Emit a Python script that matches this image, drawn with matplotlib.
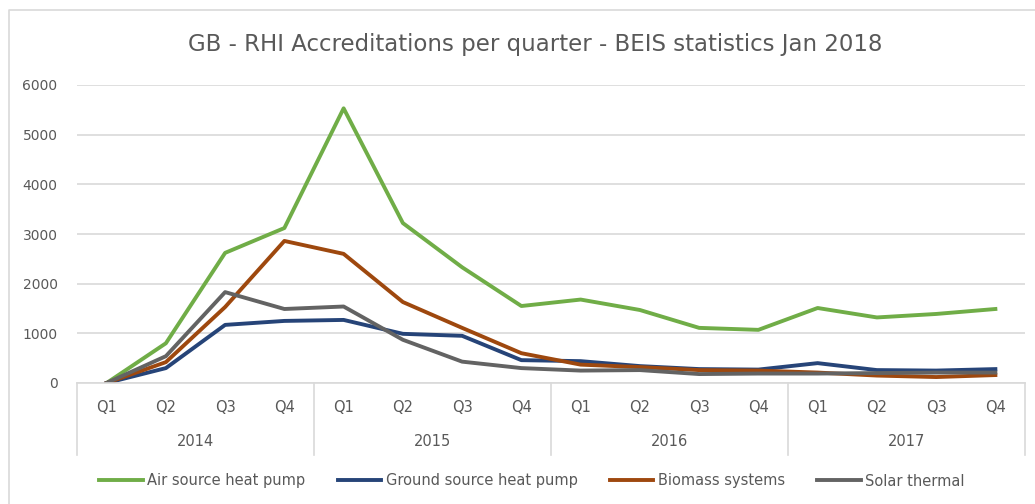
import numpy as np
import matplotlib.pyplot as plt
from matplotlib.lines import Line2D

years = ['2014', '2015', '2016', '2017']
quarters = ['Q1', 'Q2', 'Q3', 'Q4']

air_source = [0, 800, 2620, 3120, 5530, 3220, 2330, 1550,
              1680, 1470, 1110, 1070, 1510, 1320, 1390, 1490]
ground_source = [0, 300, 1170, 1250, 1270, 990, 950, 460,
                 440, 340, 280, 270, 400, 260, 250, 280]
biomass = [0, 420, 1530, 2860, 2600, 1630, 1110, 600,
           370, 320, 260, 250, 210, 150, 120, 160]
solar = [0, 540, 1830, 1490, 1540, 870, 430, 300,
         250, 260, 180, 190, 190, 200, 210, 210]

series = [
    ('Air source heat pump', air_source, '#70ad47'),
    ('Ground source heat pump', ground_source, '#264478'),
    ('Biomass systems', biomass, '#9e480e'),
    ('Solar thermal', solar, '#636363'),
]

txt = '#595959'
grid = '#d9d9d9'

fig = plt.figure(figsize=(10.35, 5.04), dpi=100)
W, H = 1035.0, 504.0

# chart border: only left and top edges are inside the picture
fig.add_artist(Line2D([9 / W, 9 / W, 1.0], [0.0, 1 - 10 / H, 1 - 10 / H],
                      transform=fig.transFigure, color=grid, lw=1.2))

ax = fig.add_axes([77 / W, 1 - 383 / H, 948 / W, 298 / H])
x = np.arange(len(air_source))
for name, vals, col in series:
    ax.plot(x, vals, color=col, lw=2.8, label=name)

ax.set_xlim(-0.5, len(x) - 0.5)
ax.set_ylim(0, 6000)
ax.set_yticks(range(0, 6001, 1000))
ax.yaxis.grid(True, color=grid, lw=1.2)
ax.set_axisbelow(True)
for s in ['top', 'right', 'left']:
    ax.spines[s].set_visible(False)
ax.spines['bottom'].set_color(grid)
ax.spines['bottom'].set_linewidth(1.2)
ax.tick_params(axis='y', length=0, labelsize=10, labelcolor=txt, pad=14)
ax.set_xticks([])

# multi-level category axis
for i in range(len(years) + 1):
    ax.plot([i * 4 - 0.5] * 2, [0, -0.24], color=grid, lw=1.2,
            transform=ax.get_xaxis_transform(), clip_on=False)
for i in x:
    ax.text(i, -0.083, quarters[i % 4], ha='center', va='center',
            fontsize=10.5, color=txt, transform=ax.get_xaxis_transform())
for j, yr in enumerate(years):
    ax.text(j * 4 + 1.5, -0.197, yr, ha='center', va='center',
            fontsize=10.5, color=txt, transform=ax.get_xaxis_transform())

fig.text(535 / W, 1 - 45 / H, 'GB - RHI Accreditations per quarter - BEIS statistics Jan 2018',
         ha='center', va='center', fontsize=16.5, color=txt)

handles = [Line2D([], [], color=c, lw=2.8) for _, _, c in series]
fig.legend(handles, [n for n, _, _ in series], loc='center',
           bbox_to_anchor=(532 / W, 1 - 481 / H), ncol=4, frameon=False,
           fontsize=10.5, labelcolor=txt, handlelength=3.0, handletextpad=0.3,
           columnspacing=2.2)

fig.savefig('out.png', dpi=100)
